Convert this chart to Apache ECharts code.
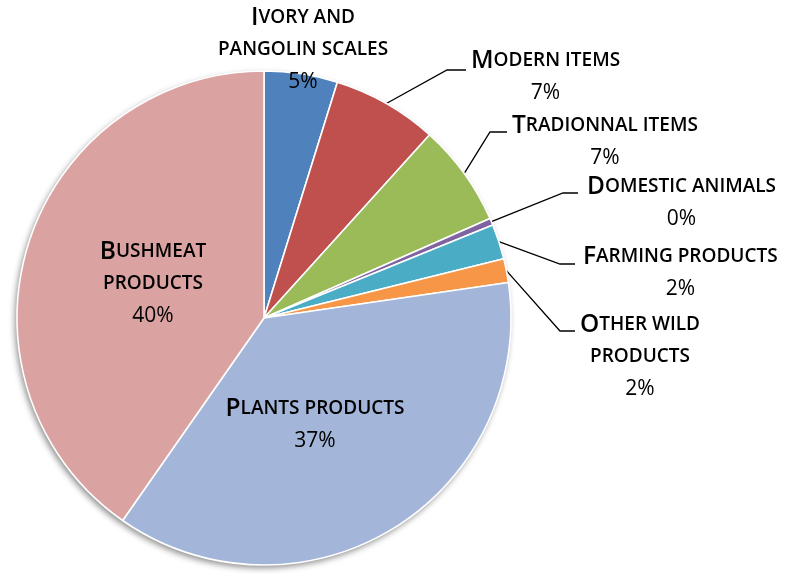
<!DOCTYPE html>
<html>
<head>
<meta charset="utf-8">
<script src="https://cdn.jsdelivr.net/npm/echarts@6/dist/echarts.min.js"></script>
<style>
  html, body { margin: 0; padding: 0; background: #fff; }
  #chart { width: 792px; height: 574px; }
</style>
</head>
<body>
<div id="chart"></div>
<script>
// Share of seized goods by category (percent)
const categories = [
  'Ivory and\npangolin scales',
  'Modern items',
  'Tradionnal items',
  'Domestic animals',
  'Farming products',
  'Other wild\nproducts',
  'Plants products',
  'Bushmeat\nproducts'
];
const shares = [4.8, 6.9, 6.7, 0.45, 2.3, 1.55, 37.0, 40.3];
const colors = ['#4F81BD', '#C0504D', '#9BBB59', '#8064A2', '#4BACC6', '#F79646', '#A3B6D9', '#DAA3A2'];

// Label placement: [anchor x, centre y, mode]; 'c' = centred on x, 'l' = block starts at x
const labelAnchors = [
  [303, 50, 'c'],
  [471, 77, 'l'],
  [512, 142, 'l'],
  [587, 203, 'l'],
  [583, 273, 'l'],
  [580, 357, 'l'],
  [315, 425, 'c'],
  [153, 284, 'c']
];
// Leader line elbow and end points for outside labels
const leaderPaths = [
  null,
  [[447, 70], [466, 70]],
  [[490, 132], [507, 132]],
  [[563, 193], [578, 193]],
  [[560, 264], [575, 264]],
  [[560, 331], [575, 331]],
  null,
  null
];

// Render a line of text in small caps: initial capitals large, the rest as small capitals
function smallCaps(line) {
  return line.split(' ').map(function (w) {
    const first = w.charAt(0);
    if (first !== first.toLowerCase()) {
      return '{cap|' + first + '}' + (w.length > 1 ? '{sc|' + w.slice(1).toUpperCase() + '}' : '');
    }
    return '{sc|' + w.toUpperCase() + '}';
  }).join('{sc| }');
}

const font = '"Open Sans"';
const weight = 600;
const chart = echarts.init(document.getElementById('chart'), null, { renderer: 'canvas' });

chart.setOption({
  animation: false,
  backgroundColor: '#ffffff',
  series: [
    {
      // soft drop shadow beneath the pie
      type: 'pie',
      silent: true,
      center: [264, 318],
      radius: 247,
      z: 1,
      label: { show: false },
      labelLine: { show: false },
      itemStyle: {
        color: '#ffffff',
        shadowBlur: 6,
        shadowColor: 'rgba(0,0,0,0.45)',
        shadowOffsetX: -2,
        shadowOffsetY: 3
      },
      data: [{ value: 1, name: '' }]
    },
    {
      type: 'pie',
      center: [264, 318],
      radius: 247,
      startAngle: 90,
      clockwise: true,
      z: 2,
      avoidLabelOverlap: false,
      itemStyle: { borderColor: '#ffffff', borderWidth: 1.6 },
      label: {
        show: true,
        position: 'outside',
        align: 'center',
        color: '#000',
        fontFamily: font,
        formatter: function (p) {
          return p.name.split('\n').map(smallCaps).join('\n') +
            '\n{pct|' + Math.round(p.value) + '%}';
        },
        rich: {
          cap: { fontFamily: font, fontWeight: weight, fontSize: 24.5, color: '#000', lineHeight: 32, verticalAlign: 'middle' },
          sc: { fontFamily: font, fontWeight: weight, fontSize: 19, color: '#000', lineHeight: 32, verticalAlign: 'middle' },
          pct: { fontFamily: font, fontWeight: 400, fontSize: 21, color: '#000', lineHeight: 32, verticalAlign: 'middle' }
        }
      },
      labelLine: {
        show: true,
        lineStyle: { color: '#000', width: 1.3 }
      },
      labelLayout: function (params) {
        const i = params.dataIndex;
        const a = labelAnchors[i];
        const w = params.labelRect.width;
        const out = {
          x: a[2] === 'c' ? a[0] : a[0] + w / 2,
          y: a[1],
          align: 'center',
          verticalAlign: 'middle'
        };
        const path = leaderPaths[i];
        if (path && params.labelLinePoints) {
          out.labelLinePoints = [params.labelLinePoints[0], path[0], path[1]];
        }
        return out;
      },
      data: categories.map(function (name, i) {
        const item = { name: name, value: shares[i], itemStyle: { color: colors[i] } };
        if (!leaderPaths[i]) item.labelLine = { show: false };
        return item;
      })
    }
  ]
});
</script>
</body>
</html>
